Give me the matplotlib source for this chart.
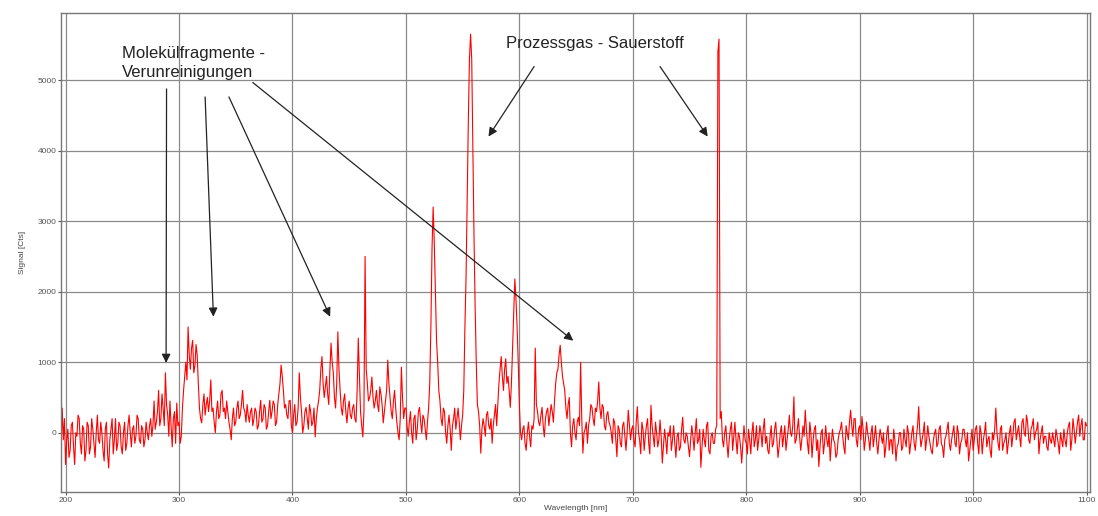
import numpy as np
import matplotlib.pyplot as plt

plt.rcParams["font.family"] = ["Liberation Sans", "DejaVu Sans"]

# spectrum, 1 nm steps (counts)
sig_196 = [-250, 350, -100, 200]
sig_200 = [-450, -100, 50, -350, -250, 100, 150, -200, -450, 0,
           -50, 250, 200, -150, -300, 100, 50, -400, -250, 150,
           100, -300, -200, 200, 50, -150, -350, 0, 250, -100,
           -150, 150, 0, -250, -400, 50, 150, -300, -500, -100,
           50, 200, -300, -100, 200, -250, -150, 150, 100, -200,
           -300, 0, 150, -250, -150, 100, 250, 0, -200, 50,
           100, -150, -50, 250, 200, -100, -150, 100, 50, -200,
           -100, 150, 0, -100, 100, 200, -50, 100, 450, 50,
           150, 300, 600, 100, 200, 550, 350, 100, 850, 400,
           250, -50, 450, 100, -200, 200, 300, -150, 420, 100]
sig_300 = [150, -150, -50, 350, 600, 800, 1000, 750, 1500, 1100,
           900, 1200, 1310, 850, 950, 1250, 1100, 700, 350, 200,
           140, 400, 550, 250, 400, 500, 300, 450, 750, 300,
           350, 150, 0, 300, 450, 200, 250, 550, 600, 300,
           350, 200, 450, 300, 150, 50, -100, 200, 350, 100,
           150, 350, 450, 200, 250, 400, 600, 350, 300, 150,
           400, 250, 150, 300, 350, 100, 200, 350, 300, 50,
           100, 300, 460, 150, 200, 400, 350, 50, 100, 300,
           460, 200, 300, 450, 400, 100, 150, 400, 550, 700,
           960, 800, 600, 350, 400, 250, 200, 450, 460, 100]
sig_400 = [0, 250, 400, 100, 150, 350, 850, 500, 300, 0,
           100, 300, 360, 200, 50, 400, 300, 100, 150, 350,
           -60, 200, 350, 450, 600, 900, 1080, 700, 500, 650,
           800, 550, 400, 900, 1270, 1000, 850, 500, 350, 700,
           1430, 900, 600, 350, 250, 450, 550, 300, 140, 350,
           450, 250, 200, 350, 400, 200, 150, 600, 1340, 800,
           300, 100, -60, 300, 2500, 900, 700, 450, 500, 600,
           790, 500, 350, 450, 600, 400, 300, 650, 550, 400,
           140, 300, 450, 600, 1030, 700, 500, 300, 200, 450,
           600, 350, 150, 0, -100, 200, 930, 500, 200, 350]
sig_500 = [350, 100, -50, 150, 300, 0, -150, 200, 250, -100,
           50, 300, 360, 150, 0, 250, 200, 50, -100, 150,
           350, 700, 1500, 2600, 3200, 2700, 2000, 1300, 1000, 600,
           450, 200, 100, 350, 300, 0, -150, 100, 250, 50,
           -250, 100, 200, 350, 50, 200, 350, 150, -100, 100,
           250, 600, 1500, 2200, 3300, 4400, 5300, 5650, 5300, 4000,
           2800, 1800, 1000, 400, 300, 100, -290, 50, 200, 100,
           -50, 250, 300, 100, 50, 200, -150, 100, 250, 400,
           100, 400, 700, 900, 1080, 800, 600, 900, 1050, 700,
           800, 600, 360, 700, 1200, 1700, 2180, 1900, 1500, 1000]
sig_600 = [400, 0, -100, 50, 100, -150, -250, 0, 150, -50,
           -200, 100, 50, 200, 1200, 400, 300, 150, 100, 250,
           360, 100, -60, 200, 300, 350, 100, 250, 400, 300,
           150, 450, 700, 850, 900, 1100, 1240, 1000, 800, 700,
           600, 350, 200, 400, 500, 0, -200, 100, 200, 0,
           -100, 150, 220, 100, 1000, 200, -290, 0, 50, 150,
           -150, 100, 200, 400, 360, 200, 100, 350, 300, 450,
           720, 350, 200, 400, 360, 100, 40, 250, 300, 150,
           100, 0, -150, 200, 140, -100, -340, 100, 50, -150,
           -200, 100, 150, -50, -250, 0, 320, 100, -100, 50]
sig_700 = [100, -100, -200, 150, 370, 0, -100, -300, 150, 50,
           -250, -50, 100, 200, -150, -300, 390, 100, -50, -200,
           150, 0, -200, -100, 180, -50, -430, -200, 50, -100,
           -300, 0, -50, 100, -250, -100, 100, -150, -350, -50,
           0, -250, -200, 50, 220, -100, -150, 0, -50, -200,
           -340, -100, 100, -50, -250, 0, 200, -150, -100, 50,
           -490, -200, 50, -100, -200, 100, 150, -250, -300, -50,
           0, -150, -150, 50, 100, 5400, 5580, 200, 300, -100,
           -200, 0, 100, -150, -350, -100, 50, 150, -250, -50,
           150, -100, -300, 0, -50, -200, -430, -150, 100, -100]
sig_800 = [-150, -300, 50, -100, -300, 0, 150, -200, -100, 100,
           -250, -100, 100, 0, -200, 50, 200, -150, -50, -250,
           -300, -50, 100, -200, -150, 50, 150, -100, -350, -200,
           0, 100, -200, -50, 100, -250, -100, 50, 250, 0,
           -50, 100, 510, -150, -100, 50, 200, -50, -250, -100,
           100, -50, 320, 50, -150, -300, 150, 0, -350, -100,
           50, 100, -250, -100, -480, -200, 0, 50, -300, -150,
           100, -100, -200, 0, -400, -150, 50, -100, -150, -350,
           -300, -100, 0, 50, 150, -50, -200, -300, 100, 0,
           -100, 150, 320, 100, -50, 200, 200, -100, -200, 50]
sig_900 = [100, -100, 230, 50, -250, -100, 150, 0, -100, -250,
           0, 100, -200, -50, 100, -150, -300, -100, 50, -50,
           -150, 0, -350, -200, 0, 100, -250, -100, -100, -300,
           50, -100, -400, -200, -150, 0, 0, -250, -200, 50,
           -100, -200, 100, 0, -300, -150, 0, 100, -150, -250,
           -50, 100, 370, 0, -200, -100, 0, 150, -250, -100,
           100, -50, -150, -250, -300, -100, 0, 50, -200, -150,
           50, 100, -150, -200, -350, -100, -50, 50, 150, -150,
           -250, -100, 0, 100, -150, -200, 100, 0, -300, -150,
           -100, 50, 50, -100, -200, 0, -400, -250, -100, 50]
sig_1000 = [-250, -100, 50, 100, -150, -300, 100, 0, -300, -100,
            0, 150, -200, -100, -50, -250, -350, 0, -100, 50,
            350, 0, -150, -250, 50, 100, -250, -150, -100, 0,
            -300, -150, 0, 100, -200, -50, 150, 200, -100, 0,
            100, -50, -200, 150, 200, 0, -50, 250, 150, -100,
            -150, 50, 100, 200, -100, 0, 50, 150, -300, -100,
            0, 100, -150, -50, -50, -200, -250, 0, -100, -150,
            0, -100, -200, 50, -50, -150, -300, 0, -100, -200,
            50, -100, -200, 0, 100, 150, -250, -100, 200, 50,
            -150, 0, 150, 250, -50, 100, 200, -100, -100, 150,
            100]

segments = [(196, sig_196), (200, sig_200), (300, sig_300), (400, sig_400),
            (500, sig_500), (600, sig_600), (700, sig_700), (800, sig_800),
            (900, sig_900), (1000, sig_1000)]

wl = np.concatenate([s + np.arange(len(v)) for s, v in segments])
signal = np.concatenate([np.asarray(v, dtype=float) for _, v in segments])

fig = plt.figure(figsize=(10.98, 5.16), dpi=100)
ax = fig.add_axes([0.0556, 0.0465, 0.9371, 0.9283])

ax.plot(wl, signal, color="#ff0000", lw=0.8)

ax.set_xlim(196, 1103)
ax.set_ylim(-840, 5950)
ax.set_xticks(range(200, 1101, 100))
ax.set_yticks(range(0, 5001, 1000))
ax.grid(True, color="#8a8a8a", lw=0.9)
ax.set_axisbelow(True)
for sp in ax.spines.values():
    sp.set_color("#777777")
    sp.set_linewidth(1.0)
ax.tick_params(labelsize=6, colors="#555555", length=2, pad=1.5)
ax.set_xlabel("Wavelength [nm]", fontsize=6, color="#444444", labelpad=1)
ax.set_ylabel("Signal [Cts]", fontsize=6, color="#444444", labelpad=8)

txt_kw = dict(fontsize=12, color="#222222")
ax.text(250, 5240, "Molekülfragmente -\nVerunreinigungen", ha="left", va="center",
        linespacing=1.4, **txt_kw)
ax.text(588, 5523, "Prozessgas - Sauerstoff", ha="left", va="center", **txt_kw)

arrow = dict(arrowstyle="-|>", color="#222222", lw=0.9, mutation_scale=13,
             shrinkA=0, shrinkB=0)
fragment_arrows = [((289, 4874), (288.6, 990)),
                   ((323, 4760), (330.3, 1645)),
                   ((344, 4760), (433.2, 1645)),
                   ((365, 4965), (647.5, 1305))]
oxygen_arrows = [((613, 5191), (572.8, 4199)),
                 ((724, 5191), (766, 4199))]
for start, tip in fragment_arrows + oxygen_arrows:
    ax.annotate("", xy=tip, xytext=start, arrowprops=arrow)

fig.savefig("out.png", dpi=100)
